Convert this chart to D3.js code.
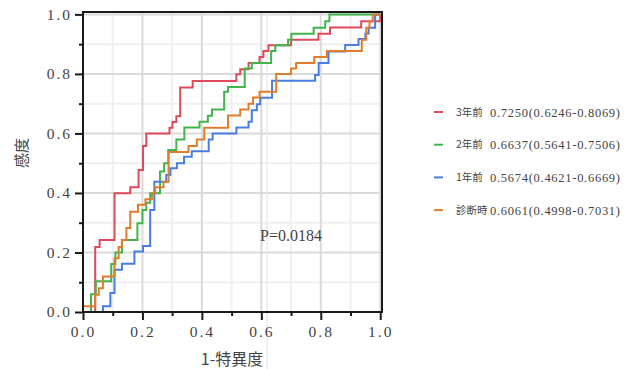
<!DOCTYPE html>
<html>
<head>
<meta charset="utf-8">
<script src="https://cdn.jsdelivr.net/npm/d3@7"></script>
<style>
  body { margin: 0; background: #fff; }
  svg { display: block; }
</style>
</head>
<body>
<div id="roc"></div>
<script>
// ROC step points: at each fpr value the curve rises to the tpr value
var fpr3y = [0, 0.041, 0.056, 0.106, 0.159, 0.187, 0.202, 0.213, 0.291, 0.301, 0.314, 0.327, 0.369, 0.516, 0.529, 0.557, 0.594, 0.607, 0.624, 0.700, 0.792, 0.831, 0.936, 1.0];
var tpr3y = [0, 0.218, 0.242, 0.399, 0.419, 0.477, 0.558, 0.600, 0.619, 0.638, 0.658, 0.754, 0.776, 0.799, 0.816, 0.837, 0.857, 0.877, 0.896, 0.915, 0.935, 0.956, 0.977, 1.0];

var fpr2y = [0, 0.027, 0.043, 0.095, 0.109, 0.131, 0.183, 0.200, 0.213, 0.226, 0.259, 0.273, 0.287, 0.314, 0.341, 0.392, 0.420, 0.434, 0.475, 0.488, 0.544, 0.568, 0.633, 0.647, 0.690, 0.701, 0.776, 0.815, 0.829, 1.0];
var tpr2y = [0, 0.060, 0.103, 0.161, 0.200, 0.242, 0.298, 0.343, 0.367, 0.399, 0.472, 0.500, 0.544, 0.580, 0.620, 0.639, 0.659, 0.680, 0.740, 0.756, 0.818, 0.837, 0.877, 0.896, 0.915, 0.935, 0.955, 0.977, 1.0, 1.0];

var fpr1y = [0, 0.067, 0.092, 0.106, 0.131, 0.173, 0.202, 0.226, 0.240, 0.280, 0.294, 0.316, 0.340, 0.366, 0.423, 0.436, 0.516, 0.557, 0.568, 0.585, 0.596, 0.636, 0.781, 0.793, 0.826, 0.882, 0.927, 0.950, 0.961, 0.983, 1.0];
var tpr1y = [0, 0.019, 0.064, 0.142, 0.162, 0.203, 0.222, 0.343, 0.438, 0.460, 0.483, 0.500, 0.522, 0.540, 0.580, 0.600, 0.620, 0.639, 0.678, 0.698, 0.720, 0.777, 0.796, 0.837, 0.875, 0.897, 0.917, 0.936, 0.955, 1.0, 1.0];

var fprDx = [0, 0, 0.041, 0.053, 0.067, 0.106, 0.120, 0.131, 0.146, 0.159, 0.185, 0.210, 0.232, 0.243, 0.271, 0.288, 0.355, 0.383, 0.408, 0.488, 0.529, 0.557, 0.572, 0.594, 0.650, 0.700, 0.717, 0.778, 0.821, 0.938, 0.953, 0.964, 0.975, 1.0];
var tprDx = [0, 0.019, 0.058, 0.080, 0.119, 0.181, 0.218, 0.242, 0.282, 0.337, 0.360, 0.379, 0.399, 0.419, 0.438, 0.538, 0.558, 0.580, 0.619, 0.660, 0.680, 0.700, 0.721, 0.740, 0.800, 0.818, 0.837, 0.857, 0.877, 0.915, 0.955, 0.977, 1.0, 1.0];

var seriesNames = ["3年前", "2年前", "1年前", "診断時"];
var aucLabels = ["0.7250(0.6246-0.8069)", "0.6637(0.5641-0.7506)", "0.5674(0.4621-0.6669)", "0.6061(0.4998-0.7031)"];
var seriesColors = ["#df4a5b", "#3fb54b", "#4a7de3", "#e07d2c"];
var majorTicks = [0, 0.2, 0.4, 0.6, 0.8, 1.0];
var minorTicks = [0.1, 0.3, 0.5, 0.7, 0.9];
var pValueText = "P=0.0184";

var series = [
    { x: fpr3y, y: tpr3y },
    { x: fpr2y, y: tpr2y },
    { x: fpr1y, y: tpr1y },
    { x: fprDx, y: tprDx }
];

var width = 634, height = 369;
var plot = { left: 83, top: 12, right: 382, bottom: 312 };
var numFont = "'Liberation Serif', 'Noto Sans CJK JP', serif";
var cjkFont = "'Noto Sans CJK JP', 'Liberation Serif', sans-serif";

var svg = d3.select("#roc").append("svg")
    .attr("width", width)
    .attr("height", height);

var x = d3.scaleLinear().domain([0, 1.006]).range([plot.left, plot.right]);
var y = d3.scaleLinear().domain([0, 1.008]).range([plot.bottom, plot.top]);

// grid
var grid = svg.append("g");
grid.selectAll(".vminor").data(minorTicks).join("line")
    .attr("x1", d => x(d)).attr("x2", d => x(d))
    .attr("y1", plot.top).attr("y2", plot.bottom)
    .attr("stroke", "#efefef").attr("stroke-width", 2);
grid.selectAll(".hminor").data(minorTicks).join("line")
    .attr("x1", plot.left).attr("x2", plot.right)
    .attr("y1", d => y(d)).attr("y2", d => y(d))
    .attr("stroke", "#efefef").attr("stroke-width", 2);
grid.append("g").selectAll("line").data(majorTicks.slice(1)).join("line")
    .attr("x1", d => x(d)).attr("x2", d => x(d))
    .attr("y1", plot.top).attr("y2", plot.bottom)
    .attr("stroke", "#dadada").attr("stroke-width", 2);
grid.append("g").selectAll("line").data(majorTicks.slice(1)).join("line")
    .attr("x1", plot.left).attr("x2", plot.right)
    .attr("y1", d => y(d)).attr("y2", d => y(d))
    .attr("stroke", "#dadada").attr("stroke-width", 2);

// faint stray vertical line seen in the original image
svg.append("line")
    .attr("x1", 267).attr("x2", 267)
    .attr("y1", plot.top).attr("y2", height)
    .attr("stroke", "#ebebeb").attr("stroke-width", 1.5);

// curves
var line = d3.line()
    .x(d => x(d[0]))
    .y(d => y(d[1]))
    .curve(d3.curveStepAfter);

svg.append("g").selectAll("path")
    .data(series)
    .join("path")
    .attr("d", s => line(s.x.map((v, i) => [v, s.y[i]])))
    .attr("fill", "none")
    .attr("stroke", (s, i) => seriesColors[i])
    .attr("stroke-width", 2);

// axes
var fmt = d3.format(".1f");
var xAxis = svg.append("g")
    .attr("transform", "translate(0," + plot.bottom + ")")
    .call(d3.axisBottom(x).tickValues(majorTicks).tickSize(8).tickPadding(6).tickFormat(fmt));
var xMinor = svg.append("g")
    .attr("transform", "translate(0," + plot.bottom + ")")
    .call(d3.axisBottom(x).tickValues(minorTicks).tickSize(4).tickFormat(""));
var yAxis = svg.append("g")
    .attr("transform", "translate(" + plot.left + ",0)")
    .call(d3.axisLeft(y).tickValues(majorTicks).tickSize(8).tickPadding(3).tickFormat(fmt));
var yMinor = svg.append("g")
    .attr("transform", "translate(" + plot.left + ",0)")
    .call(d3.axisLeft(y).tickValues(minorTicks).tickSize(4).tickFormat(""));

[xAxis, xMinor, yAxis, yMinor].forEach(function (g) {
    g.select(".domain").remove();
    g.selectAll(".tick line").attr("stroke", "#1a1a1a").attr("stroke-width", 2);
    g.selectAll("text")
        .attr("fill", "#444")
        .style("font-family", numFont)
        .style("font-size", "15.5px")
        .style("letter-spacing", "2px");
});

// frame
svg.append("rect")
    .attr("x", plot.left).attr("y", plot.top)
    .attr("width", plot.right - plot.left)
    .attr("height", plot.bottom - plot.top)
    .attr("fill", "none")
    .attr("stroke", "#1a1a1a")
    .attr("stroke-width", 2);

// axis titles
svg.append("text")
    .attr("x", 232).attr("y", 365)
    .attr("text-anchor", "middle")
    .attr("fill", "#444")
    .style("font-family", cjkFont)
    .style("font-size", "16px")
    .text("1-特異度");

svg.append("text")
    .attr("transform", "translate(27,153) rotate(-90)")
    .attr("text-anchor", "middle")
    .attr("fill", "#444")
    .style("font-family", cjkFont)
    .style("font-size", "15px")
    .text("感度");

// p value
svg.append("text")
    .attr("x", 260).attr("y", 241)
    .attr("fill", "#444")
    .style("font-family", numFont)
    .style("font-size", "16px")
    .text(pValueText);

// legend
var legend = svg.append("g");
var rows = legend.selectAll("g")
    .data(seriesNames)
    .join("g")
    .attr("transform", (d, i) => "translate(0," + (112 + i * 32.7) + ")");
rows.append("line")
    .attr("x1", 434).attr("x2", 443)
    .attr("stroke", (d, i) => seriesColors[i])
    .attr("stroke-width", 2);
rows.append("text")
    .attr("x", 456).attr("dy", "0.36em")
    .attr("fill", "#444")
    .style("font-family", cjkFont)
    .style("font-size", "10.5px")
    .text(d => d);
rows.append("text")
    .attr("x", 490).attr("dy", "0.36em")
    .attr("fill", "#444")
    .attr("textLength", 130)
    .attr("lengthAdjust", "spacing")
    .style("font-family", numFont)
    .style("font-size", "12.5px")
    .text((d, i) => aucLabels[i]);
</script>
</body>
</html>
